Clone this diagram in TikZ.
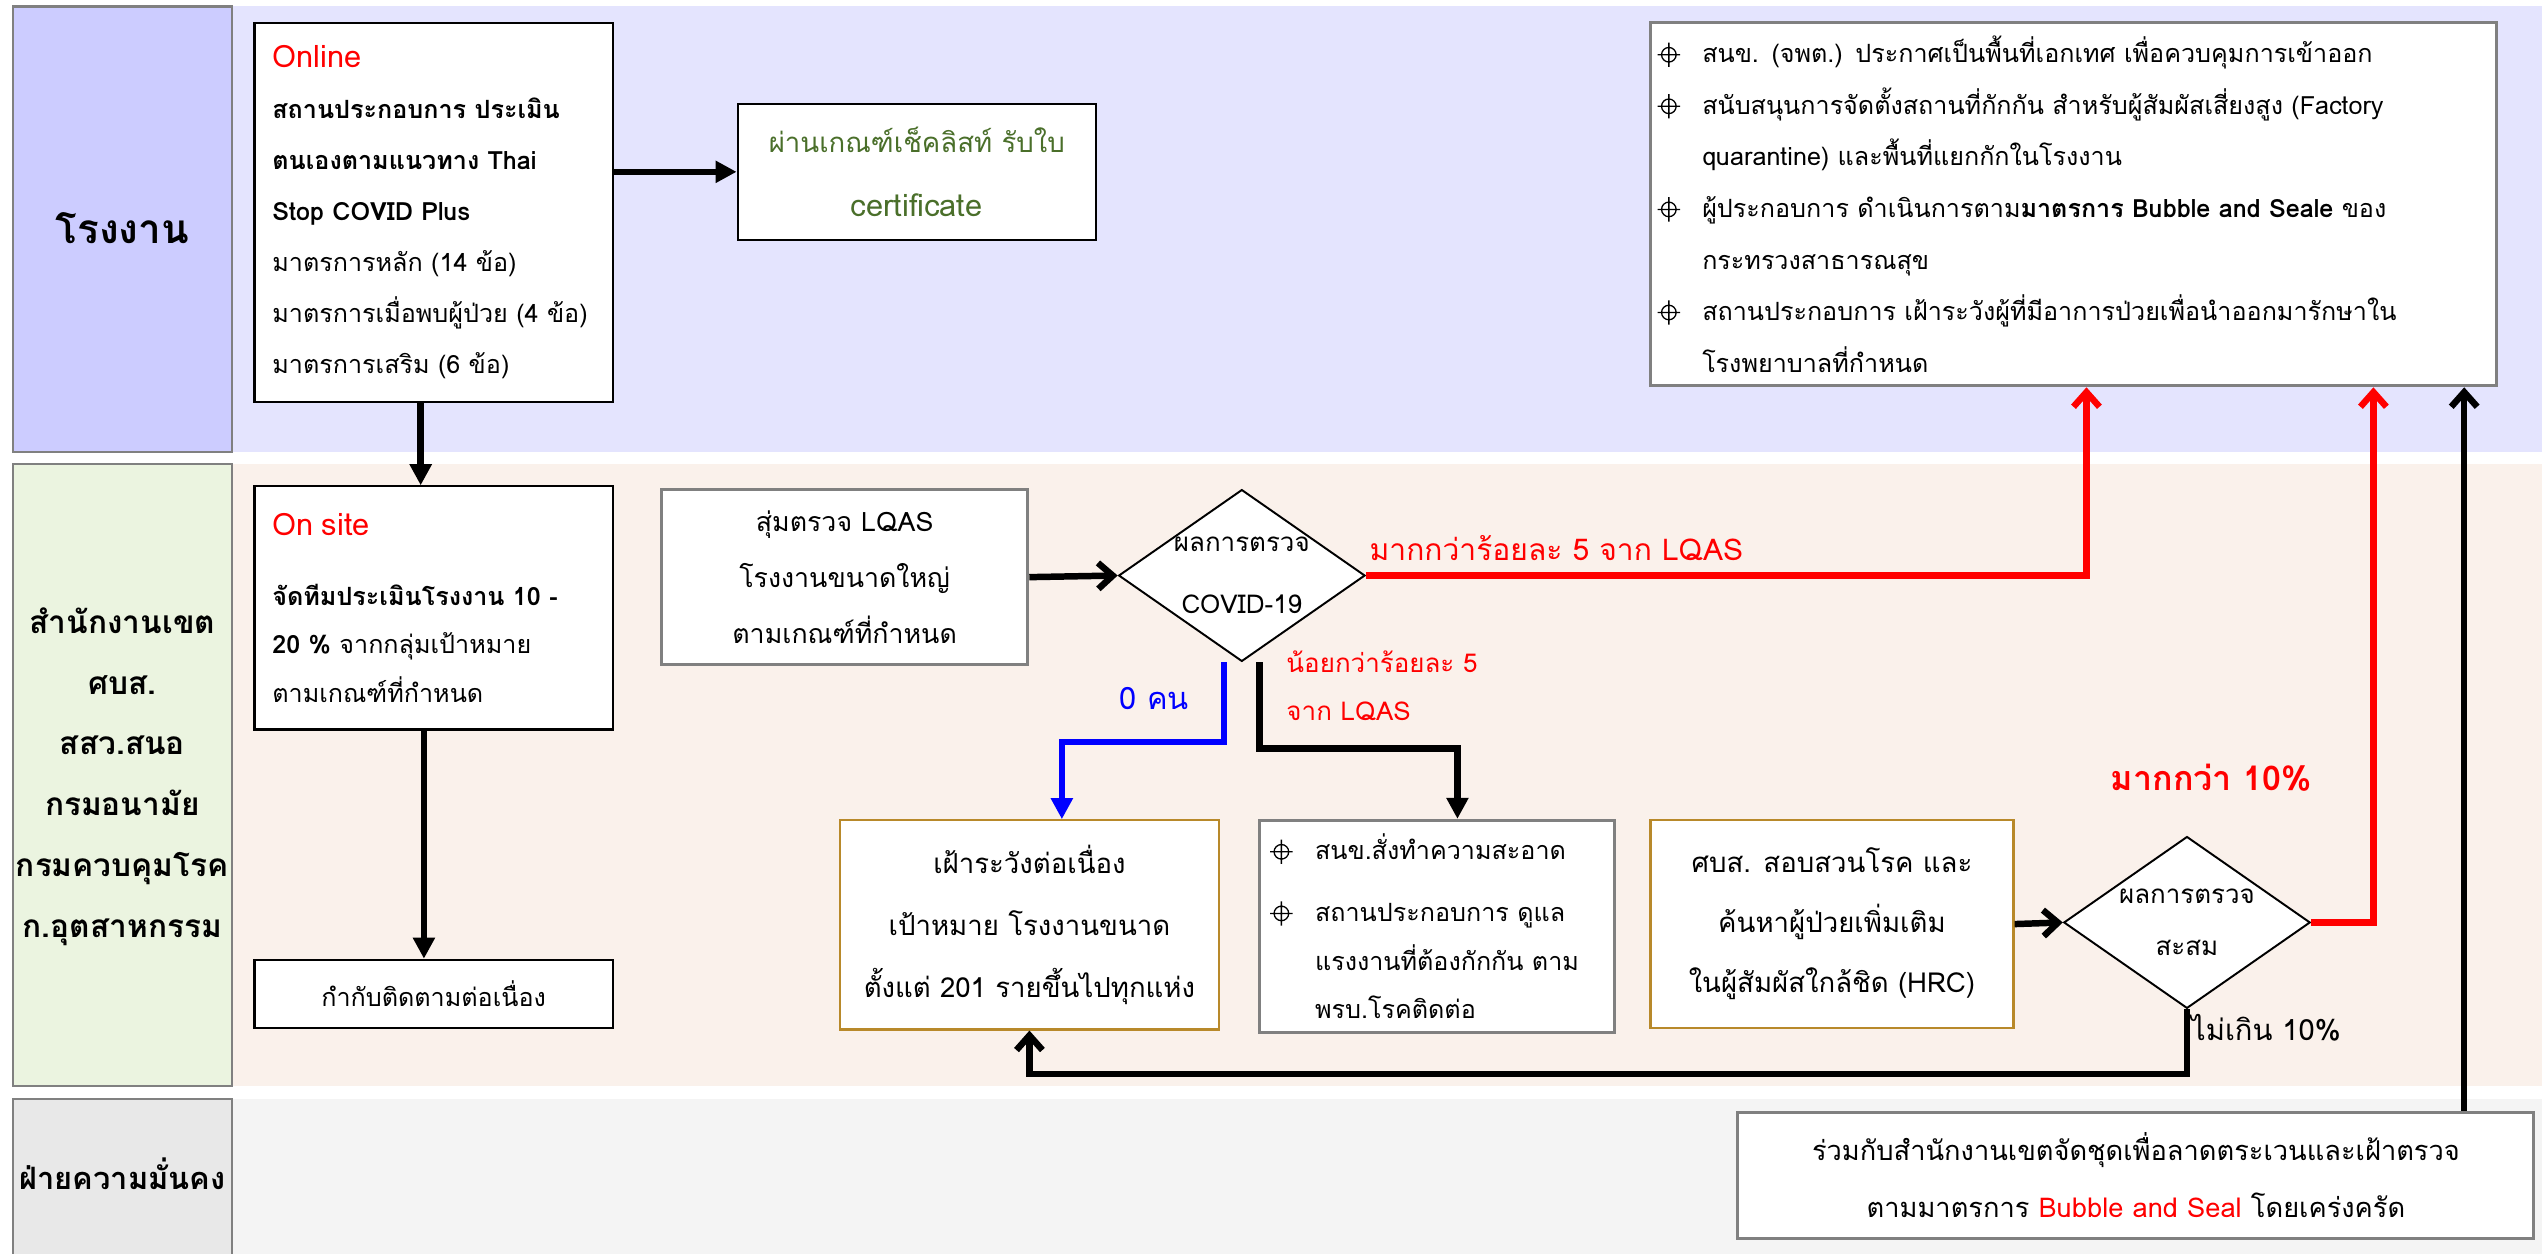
\documentclass[tikz,border=0pt]{standalone}
\usepackage{fontspec}
\setmainfont[Script=Thai]{Loma}
\usetikzlibrary{shapes.geometric,arrows.meta}

\definecolor{lanea}{HTML}{CCCCFF}
\definecolor{laneabg}{HTML}{E4E4FE}
\definecolor{laneb}{HTML}{EBF4E0}
\definecolor{lanebbg}{HTML}{FAF1EB}
\definecolor{lanec}{HTML}{E8E8E8}
\definecolor{lanecbg}{HTML}{F4F4F4}
\definecolor{gold}{HTML}{B8892A}
\definecolor{certgreen}{HTML}{4A6F2A}

% crosshair bullet, drawn since no font has it
\newcommand{\bul}[1][28pt]{\makebox[#1][l]{\tikz[baseline=-5pt,x=1pt,y=1pt]{\draw[draw=black,line width=0.8pt] (0,0) circle (4.5) (-7,0) -- (7,0) (0,-7.5) -- (0,7.5);}}}
\newcommand{\nobul}[1][28pt]{\hspace*{#1}}

\tikzset{
  box/.style={draw, fill=white, line width=1.3pt, align=center, inner sep=2pt},
  graybox/.style={box, draw=gray, line width=1.8pt},
  goldbox/.style={box, draw=gold, line width=1.4pt},
  decide/.style={diamond, draw, fill=white, line width=1.2pt, inner sep=-6pt, align=center,
    shape aspect=1.43, minimum width=152pt, minimum height=106pt},
  flow/.style={line width=4pt, -{Triangle[length=13pt,width=13pt]}},
  barb/.style={line width=4pt, -{Straight Barb[length=9pt,width=16pt]}},
  lanehead/.style={draw=gray, line width=1.4pt},
  lanetext/.style={align=center}
}

\begin{document}
\begin{tikzpicture}[x=1pt,y=-1pt]
\useasboundingbox (0,0) rectangle (1568,773);

% lanes
\fill[laneabg] (143,4) rectangle (1568,279);
\fill[lanebbg] (143,286) rectangle (1568,670);
\fill[lanecbg] (143,678) rectangle (1568,790);
\draw[lanehead, fill=lanea] (8,4) rectangle (143,279);
\draw[lanehead, fill=laneb] (8,286) rectangle (143,670);
\draw[lanehead, fill=lanec] (8,678) rectangle (143,790);
\node[lanetext, font=\bfseries\fontsize{25}{30}\selectfont] (fab) at (75.5,141) {โรงงาน};
\node[lanetext, font=\bfseries\fontsize{19.5}{37.5}\selectfont] (office) at (75.5,479) {สำนักงานเขต\\ศบส.\\สสว.สนอ\\กรมอนามัย\\กรมควบคุมโรค\\ก.อุตสาหกรรม};
\node[lanetext, font=\bfseries\fontsize{19}{22}\selectfont] (sec) at (75.5,724) {ฝ่ายความมั่นคง};

% factory lane
\node[box, minimum width=221pt, minimum height=234pt, text width=199pt, align=left, inner xsep=11pt,
  font=\fontsize{15.5}{31.5}\selectfont] (online) at (267.5,131) {\textcolor{red}{\fontsize{19}{31.5}\selectfont Online}\\
  \mbox{\textbf{สถานประกอบการ ประเมิน}}\\
  \mbox{\textbf{ตนเองตามแนวทาง Thai}}\\
  \textbf{Stop COVID Plus}\\
  \mbox{มาตรการหลัก (14 ข้อ)}\\
  \mbox{มาตรการเมื่อพบผู้ป่วย (4 ข้อ)}\\
  \mbox{มาตรการเสริม (6 ข้อ)}};
\node[box, minimum width=221pt, minimum height=84pt, text=certgreen,
  font=\fontsize{17}{39}\selectfont] (cert) at (565.5,106) {ผ่านเกณฑ์เช็คลิสท์ รับใบ\\{\fontsize{19}{39}\selectfont certificate}};
\node[graybox, minimum width=522pt, minimum height=224pt, text width=514pt, align=left, inner xsep=4pt,
  font=\fontsize{15.5}{31.8}\selectfont] (topbox) at (1279,126) {\bul สนข. (จพต.) ประกาศเป็นพื้นที่เอกเทศ เพื่อควบคุมการเข้าออก\\
  \bul สนับสนุนการจัดตั้งสถานที่กักกัน สำหรับผู้สัมผัสเสี่ยงสูง (Factory\\
  \nobul quarantine) และพื้นที่แยกกักในโรงงาน\\
  \bul ผู้ประกอบการ ดำเนินการตาม\textbf{มาตรการ Bubble and Seale} ของ\\
  \nobul กระทรวงสาธารณสุข\\
  \bul สถานประกอบการ เฝ้าระวังผู้ที่มีอาการป่วยเพื่อนำออกมารักษาใน\\
  \nobul โรงพยาบาลที่กำหนด};

% office lane
\node[box, minimum width=221pt, minimum height=150pt, text width=199pt, align=left, inner xsep=11pt,
  font=\fontsize{15.5}{30}\selectfont] (onsite) at (267.5,375) {\textcolor{red}{\fontsize{19}{30}\selectfont On site}\\[13pt]
  \mbox{\textbf{จัดทีมประเมินโรงงาน 10 -}}\\
  \mbox{\textbf{20 \%} จากกลุ่มเป้าหมาย}\\
  ตามเกณฑ์ที่กำหนด};
\node[box, minimum width=221pt, minimum height=42pt, font=\fontsize{15.5}{18}\selectfont] (follow) at (267.5,613) {กำกับติดตามต่อเนื่อง};
\node[graybox, minimum width=226pt, minimum height=108pt, font=\fontsize{16.5}{34.5}\selectfont] (lqas) at (521,356) {สุ่มตรวจ LQAS\\โรงงานขนาดใหญ่\\ตามเกณฑ์ที่กำหนด};
\node[decide, font=\fontsize{16}{38}\selectfont] (dec1) at (766,355) {ผลการตรวจ\\COVID-19};
\node[goldbox, minimum width=234pt, minimum height=129pt, font=\fontsize{17}{38}\selectfont] (watch) at (635,570.5) {เฝ้าระวังต่อเนื่อง\\เป้าหมาย โรงงานขนาด\\ตั้งแต่ 201 รายขึ้นไปทุกแห่ง};
\node[graybox, minimum width=219pt, minimum height=131pt, text width=207pt, align=left, inner xsep=6pt,
  font=\fontsize{15.5}{30}\selectfont] (act) at (886.5,571.5) {\bul[23pt] สนข.สั่งทำความสะอาด\\[8pt]
  \bul[23pt] สถานประกอบการ ดูแล\\
  \nobul[23pt] แรงงานที่ต้องกักกัน ตาม\\
  \nobul[23pt] พรบ.โรคติดต่อ};
\node[goldbox, minimum width=224pt, minimum height=128pt, font=\fontsize{17}{37}\selectfont] (hrc) at (1130,570) {ศบส. สอบสวนโรค และ\\ค้นหาผู้ป่วยเพิ่มเติม\\ในผู้สัมผัสใกล้ชิด (HRC)};
\node[decide, font=\fontsize{16}{32}\selectfont] (dec2) at (1349,569) {ผลการตรวจ\\สะสม};

% security lane
\node[graybox, minimum width=491pt, minimum height=78pt, font=\fontsize{16.8}{35}\selectfont] (patrol) at (1317.5,725) {ร่วมกับสำนักงานเขตจัดชุดเพื่อลาดตระเวนและเฝ้าตรวจ\\ตามมาตรการ \textcolor{red}{Bubble and Seal} โดยเคร่งครัด};

% connectors
\draw[flow] (online.east |- cert.west) -- (cert.west);
\draw[flow] ([xshift=-8pt]online.south) -- ([xshift=-8pt]onsite.north);
\draw[flow] ([xshift=-6pt]onsite.south) -- ([xshift=-6pt]follow.north);
\draw[barb] (lqas.east) -- (dec1.west);
\draw[red, barb] (dec1.east) -| ([xshift=8pt]topbox.south);
\draw[blue, flow] ([xshift=-11pt]dec1.south) -- ++(0,49) -| ([xshift=20pt]watch.north);
\draw[flow] ([xshift=11pt]dec1.south) -- ++(0,53) -| ([xshift=12.5pt]act.north);
\draw[barb] (hrc.east) -- (dec2.west);
\draw[red, barb] (dec2.east) -| ([xshift=185pt]topbox.south);
\draw[barb] (dec2.south) -- ++(0,40) -| (watch.south);
\draw[barb] ([xshift=202.5pt]patrol.north) -- ([xshift=202.5pt]patrol.north |- topbox.south);

% branch labels
\node[text=red, font=\fontsize{18.5}{20}\selectfont] (more5) at (960,338) {มากกว่าร้อยละ 5 จาก LQAS};
\node[text=red, align=left, anchor=west, font=\fontsize{16}{30}\selectfont] (less5) at (790,423) {น้อยกว่าร้อยละ 5\\จาก LQAS};
\node[text=blue, font=\fontsize{19}{20}\selectfont] (zero) at (712,431) {0 คน};
\node[text=red, font=\bfseries\fontsize{21}{22}\selectfont] (more10) at (1364,480) {มากกว่า 10\%};
\node[anchor=west, font=\fontsize{18}{20}\selectfont] (le10) at (1348,634) {ไม่เกิน 10\%};
\end{tikzpicture}
\end{document}
